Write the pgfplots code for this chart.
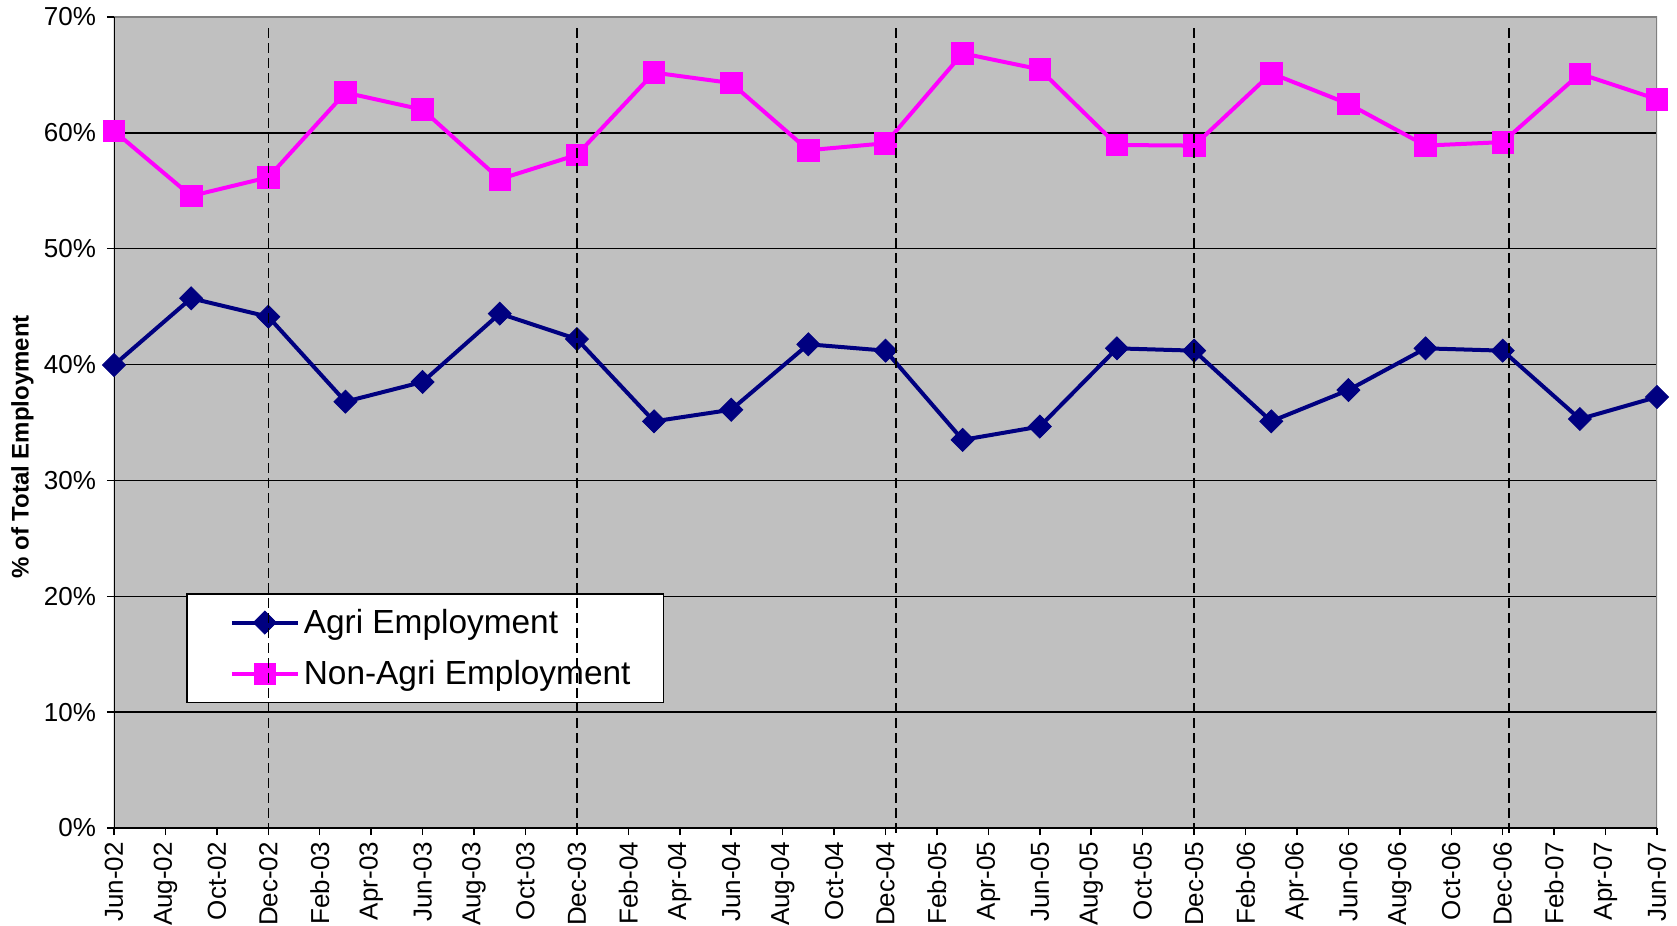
\documentclass[border=0pt]{standalone}
\usepackage{fontspec}
\setmainfont{Liberation Sans}
\usepackage{pgfplots}
\pgfplotsset{compat=1.18}
\definecolor{agri}{HTML}{000080}
\definecolor{nonagri}{HTML}{FF00FF}
\definecolor{plotbg}{HTML}{C0C0C0}
\definecolor{frame}{HTML}{808080}

\begin{document}
\begin{tikzpicture}
\begin{axis}[
    name=main,
    scale only axis,
    width=771.5pt, height=405.5pt,
    xmin=0, xmax=60, ymin=0, ymax=70,
    axis background/.style={fill=plotbg},
    axis line style={draw=none},
    xtick={0,2,...,60},
    xticklabels={Jun-02,Aug-02,Oct-02,Dec-02,
        Feb-03,Apr-03,Jun-03,Aug-03,Oct-03,Dec-03,
        Feb-04,Apr-04,Jun-04,Aug-04,Oct-04,Dec-04,
        Feb-05,Apr-05,Jun-05,Aug-05,Oct-05,Dec-05,
        Feb-06,Apr-06,Jun-06,Aug-06,Oct-06,Dec-06,
        Feb-07,Apr-07,Jun-07},
    x tick label style={rotate=90, anchor=east, font=\fontsize{13}{15}\selectfont},
    ytick={0,10,...,70},
    yticklabels={0\%,10\%,20\%,30\%,40\%,50\%,60\%,70\%},
    y tick label style={font=\fontsize{13}{15}\selectfont, xshift=-2pt},
    tick align=outside, major tick length=3.5pt,
    xtick pos=left, ytick pos=left,
    every tick/.style={black, line width=0.75pt},
    ymajorgrids, grid style={black, line width=0.75pt},
    ylabel={\bfseries \% of Total Employment},
    ylabel style={at={(axis description cs:-0.0593,0.47)}, anchor=center,
        font=\fontsize{12}{14}\selectfont},
    legend style={at={(axis description cs:0.0467,0.154)}, anchor=south west,
        draw=black, line width=0.75pt, fill=white,
        font=\fontsize{16.7}{19}\selectfont,
        inner xsep=14.5pt, inner ysep=5.5pt, row sep=8pt,
        cells={anchor=west}},
    legend image code/.code={
        \path (0pt,0pt);
        \draw[mark repeat=2, mark phase=2, #1]
            plot coordinates {(7pt,0pt) (23.5pt,0pt) (40pt,0pt)};
    },
]
% quarterly values, x in months since Jun-02
\addplot[color=agri, line width=2pt, mark=square*, mark size=4.07pt,
    mark options={rotate=45, fill=agri, line width=0.4pt}]
coordinates {
    (0,39.96) (3,45.72) (6,44.13) (9,36.8) (12,38.5) (15,44.4) (18,42.2)
    (21,35.1) (24,36.1) (27,41.75) (30,41.2) (33,33.5) (36,34.65) (39,41.4)
    (42,41.2) (45,35.1) (48,37.8) (51,41.4) (54,41.2) (57,35.3) (60,37.2)
};
\addplot[color=nonagri, line width=2pt, mark=square*, mark size=5.4pt,
    mark options={fill=nonagri, line width=0.4pt}]
coordinates {
    (0,60.16) (3,54.55) (6,56.16) (9,63.47) (12,62.0) (15,56.0) (18,58.1)
    (21,65.2) (24,64.3) (27,58.5) (30,59.1) (33,66.86) (36,65.48) (39,58.95)
    (42,58.9) (45,65.14) (48,62.5) (51,58.9) (54,59.2) (57,65.1) (60,62.9)
};
\draw[frame, line width=1pt] (rel axis cs:0,1) -- (rel axis cs:1,1) -- (rel axis cs:1,0);
\draw[black, line width=1pt] (rel axis cs:0,1) -- (rel axis cs:0,0) -- (rel axis cs:1,0);
\legend{Agri Employment, Non-Agri Employment}
\end{axis}

% year dividers, drawn over the legend
\begin{axis}[
    scale only axis,
    width=771.5pt, height=405.5pt,
    xmin=0, xmax=60, ymin=0, ymax=70,
    hide axis, clip=false,
]
\addplot[black, line width=0.8pt, dash pattern=on 5pt off 2.5pt] coordinates {(6,-0.4) (6,69.4)};
\addplot[black, line width=0.8pt, dash pattern=on 5pt off 2.5pt] coordinates {(18,-0.4) (18,69.4)};
\addplot[black, line width=0.8pt, dash pattern=on 5pt off 2.5pt] coordinates {(30.4,-0.4) (30.4,69.4)};
\addplot[black, line width=0.8pt, dash pattern=on 5pt off 2.5pt] coordinates {(42,-0.4) (42,69.4)};
\addplot[black, line width=0.8pt, dash pattern=on 5pt off 2.5pt] coordinates {(54.25,-0.4) (54.25,69.4)};
\end{axis}

\pgfresetboundingbox
\path (main.south west) +(-57pt,-48.5pt) (main.north east) +(10pt,8.5pt);
\end{tikzpicture}
\end{document}
